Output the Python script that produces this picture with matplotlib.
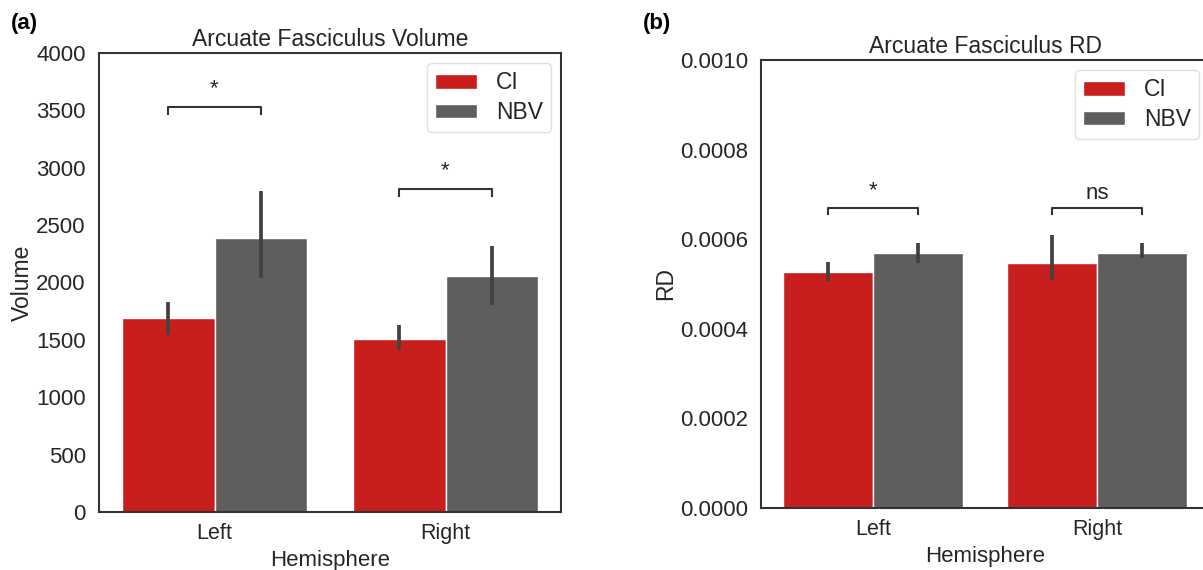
import matplotlib
matplotlib.use("Agg")
import matplotlib.pyplot as plt
import numpy as np

plt.rcParams['font.family'] = ['Liberation Sans', 'DejaVu Sans']

hemispheres = ["Left", "Right"]
groups = ["CI", "NBV"]
colors = {"CI": "#c81e1e", "NBV": "#5e5e5d"}

vol_mean = {"CI": [1690, 1508], "NBV": [2388, 2057]}
vol_lo = {"CI": [1545, 1410], "NBV": [2040, 1800]}
vol_hi = {"CI": [1830, 1630], "NBV": [2795, 2320]}
vol_sig = ["*", "*"]
vol_bracket_y = [3530, 2815]

rd_mean = {"CI": [0.000527, 0.000547], "NBV": [0.000569, 0.000569]}
rd_lo = {"CI": [0.000507, 0.000509], "NBV": [0.000547, 0.000558]}
rd_hi = {"CI": [0.000549, 0.000609], "NBV": [0.000592, 0.000591]}
rd_sig = ["*", "ns"]
rd_bracket_y = [0.000670, 0.000670]

TXT = "#262626"

fig = plt.figure(figsize=(12.03, 5.70), dpi=100)
axA = fig.add_axes([99/1203, 58/570, 462/1203, 459/570])
axB = fig.add_axes([761/1203, 62/570, 448/1203, 448/570])

def panel(ax, mean, lo, hi, sig, by, tick, ylim, title, ylabel, yfmt, ylpad):
    x = np.arange(len(hemispheres))
    w = 0.4
    for i, g in enumerate(groups):
        pos = x + (i - 0.5) * w
        ax.bar(pos, mean[g], width=w, color=colors[g], edgecolor="white",
               linewidth=1.0, label=g, zorder=2)
        ax.vlines(pos, lo[g], hi[g], color="#424242", linewidth=2.7, zorder=3)
    for j in range(len(hemispheres)):
        x1, x2 = x[j] - w / 2, x[j] + w / 2
        ax.plot([x1, x1, x2, x2], [by[j] - tick, by[j], by[j], by[j] - tick],
                color="#333333", linewidth=1.5, zorder=4)
        if sig[j] == "*":
            ax.text((x1 + x2) / 2, by[j] + tick * 1.0, "*", ha="center",
                    va="bottom", fontsize=16, color=TXT)
        else:
            ax.text((x1 + x2) / 2, by[j] + tick * 0.6, sig[j], ha="center",
                    va="bottom", fontsize=16, color=TXT)
    ax.set_xlim(-0.5, 1.5)
    ax.set_ylim(*ylim)
    ax.set_xticks(x)
    ax.set_xticklabels(hemispheres)
    ax.tick_params(axis="y", length=0, labelsize=16, colors=TXT, pad=9.5)
    ax.tick_params(axis="x", length=0, labelsize=15.5, colors=TXT, pad=8)
    ax.yaxis.set_major_formatter(matplotlib.ticker.FormatStrFormatter(yfmt))
    ax.set_xlabel("Hemisphere", fontsize=16, color=TXT, labelpad=4)
    ax.set_ylabel(ylabel, fontsize=16.5, color=TXT, labelpad=ylpad)
    ax.set_title(title, fontsize=16.5, color=TXT, pad=5)
    for s in ax.spines.values():
        s.set_color("#333333")
        s.set_linewidth(1.5)
    leg = ax.legend(loc="upper right", fontsize=16.5, handlelength=1.85,
                    handleheight=0.6, handletextpad=0.8, labelspacing=0.3,
                    borderpad=0.35, borderaxespad=0.45, frameon=True)
    leg.get_frame().set_edgecolor("#d8d8d8")
    for t in leg.get_texts():
        t.set_color(TXT)

panel(axA, vol_mean, vol_lo, vol_hi, vol_sig, vol_bracket_y, 65, (0, 4000),
      "Arcuate Fasciculus Volume", "Volume", "%d", 1.5)
axA.set_yticks(np.arange(0, 4001, 500))
panel(axB, rd_mean, rd_lo, rd_hi, rd_sig, rd_bracket_y, 0.000014, (0, 0.001),
      "Arcuate Fasciculus RD", "RD", "%.4f", 1.5)
axB.set_yticks(np.arange(0, 0.00101, 0.0002))

fig.text(11/1203, 1 - 23/570, "(a)", fontsize=16, fontweight="bold", va="center")
fig.text(643/1203, 1 - 23/570, "(b)", fontsize=16, fontweight="bold", va="center")

fig.savefig("out.png", dpi=100)
